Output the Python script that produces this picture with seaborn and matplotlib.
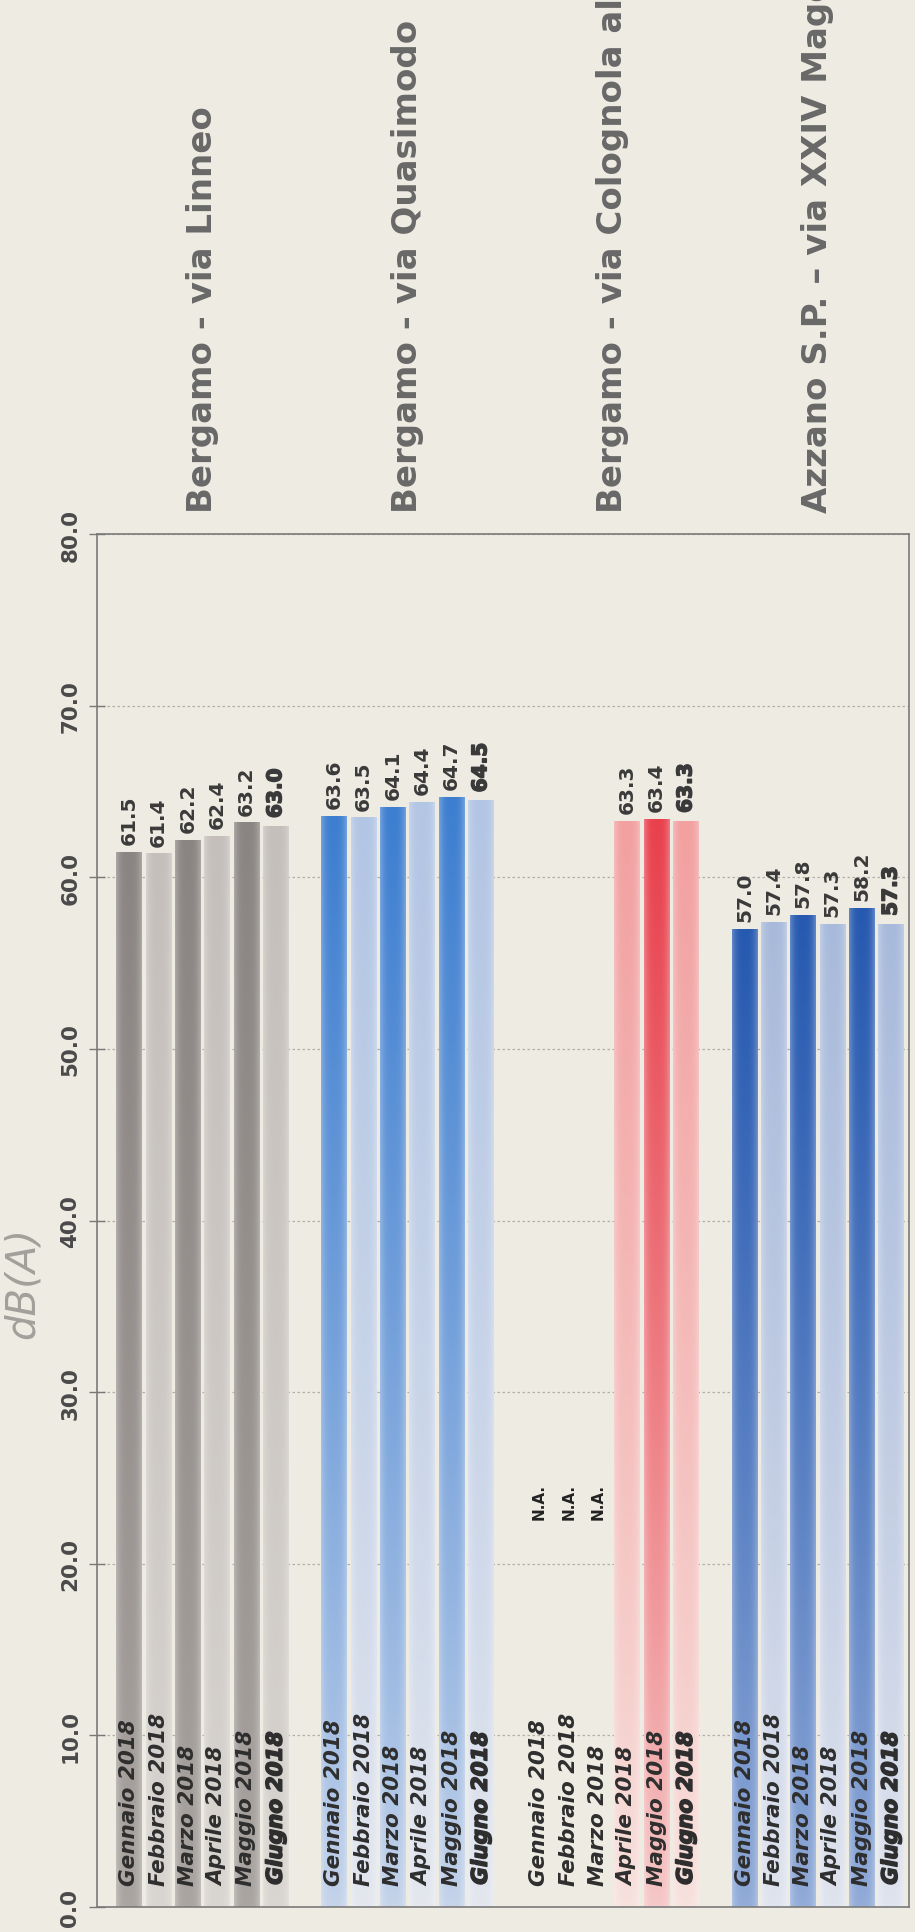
import numpy as np
import pandas as pd
import seaborn as sns
import matplotlib
matplotlib.use("Agg")
import matplotlib.pyplot as plt
from matplotlib import patheffects as pe
from matplotlib.colors import to_rgb

# ---------------- data ----------------
stations = ["Bergamo - via Linneo", "Bergamo - via Quasimodo",
            "Bergamo - via Colognola al Piano", "Azzano S.P. \u2013 via XXIV Maggio"]
months = ["Gennaio 2018", "Febbraio 2018", "Marzo 2018",
          "Aprile 2018", "Maggio 2018", "Giugno 2018"]
linneo = [61.5, 61.4, 62.2, 62.4, 63.2, 63.0]
quasimodo = [63.6, 63.5, 64.1, 64.4, 64.7, 64.5]
colognola = [np.nan, np.nan, np.nan, 63.3, 63.4, 63.3]
azzano = [57.0, 57.4, 57.8, 57.3, 58.2, 57.3]
yticks = [0, 10, 20, 30, 40, 50, 60, 70, 80]
ytick_labels = ["0.0", "10.0", "20.0", "30.0", "40.0", "50.0", "60.0", "70.0", "80.0"]
na_label = "N.A."
unit_label = "dB(A)"

series = [linneo, quasimodo, colognola, azzano]

# (top, bottom) colours for dark (even month) and light (odd month) bars
group_colors = [
    (("#8a8582", "#aaa5a1"), ("#c4bfbb", "#d9d5d0")),
    (("#3d7ed0", "#c6d4ea"), ("#b2c5e4", "#e4e7ee")),
    (("#e8414d", "#f5c9c8"), ("#f2a0a0", "#f7e2de")),
    (("#2659b0", "#93acd8"), ("#a8badb", "#e0e4ee")),
]

rows = []
for g, (st, vals) in enumerate(zip(stations, series)):
    for m, (mo, v) in enumerate(zip(months, vals)):
        rows.append(dict(station=st, month=mo, value=v, g=g, m=m,
                         pos=g * 7 + m, key=f"{g}-{m % 2}"))
df = pd.DataFrame(rows)
palette = {f"{g}-{k}": group_colors[g][k][0] for g in range(4) for k in range(2)}

BG = "#eeebe3"
sns.set_theme(style="white")
plt.rcParams["font.family"] = ["DejaVu Sans"]

fig = plt.figure(figsize=(9.15, 19.33), dpi=100, facecolor=BG)
ax = fig.add_axes([0.106, 0.0129, 0.887, 0.7103])
ax.set_facecolor(BG)

sns.barplot(data=df.dropna(subset=["value"]), x="pos", y="value", hue="key",
            palette=palette, native_scale=True, dodge=False, width=0.88,
            legend=False, errorbar=None, saturation=1, ax=ax, zorder=2)

# gradient fill clipped to each bar drawn by seaborn
lookup = {int(r.pos): r for r in df.itertuples()}
for p in list(ax.patches):
    x0, w, h = p.get_x(), p.get_width(), p.get_height()
    if h <= 0 or np.isnan(h):
        continue
    r = lookup[int(round(x0 + w / 2))]
    top, bot = (np.array(to_rgb(c)) for c in group_colors[r.g][r.m % 2])
    ny, nx = 200, 40
    t = np.linspace(0, 1, ny)[:, None, None] ** 0.8   # 0 bottom -> 1 top
    col = bot * (1 - t) + top * t
    u = np.linspace(-1, 1, nx)[None, :, None]
    edge = 0.28 * np.abs(u) ** 3
    img = np.clip(col * (1 - edge) + edge * np.ones(3), 0, 1)
    p.set_alpha(0)
    p.set_edgecolor("none")
    im = ax.imshow(img, extent=[x0, x0 + w, 0, h], origin="lower",
                   aspect="auto", zorder=2.5, interpolation="bilinear")
    im.set_clip_path(p)

heavy = [pe.withStroke(linewidth=1.1, foreground="#2e2e2e")]

for r in df.itertuples():
    is_last = r.m == 5
    ax.text(r.pos, 1.3, r.month, rotation=90, ha="center", va="bottom",
            fontsize=15.5, fontweight="bold", fontstyle="italic",
            color="#2e2e2e", zorder=5,
            path_effects=heavy if is_last else None)
    if np.isnan(r.value):
        ax.text(r.pos, 22.6, na_label, rotation=90, ha="center", va="bottom",
                fontsize=11, fontweight="bold", color="#222222", zorder=5)
    else:
        ax.text(r.pos, r.value + 0.45, f"{r.value:.1f}", rotation=90,
                ha="center", va="bottom", fontsize=14.5, fontweight="bold",
                color="#3a3a3a", zorder=5,
                path_effects=[pe.withStroke(linewidth=1.1, foreground="#3a3a3a")] if is_last else None)

for g, st in enumerate(stations):
    ax.text(g * 7 + 2.5, 81.3, st, rotation=90, ha="center", va="bottom",
            fontsize=24.5, fontweight="bold", color="#686868", clip_on=False)

ax.set_xlim(-1.1, 26.6)
ax.set_ylim(0, 80)
ax.set_xticks([])
ax.set_xlabel("")
ax.set_yticks(yticks)
ax.set_yticklabels(ytick_labels, rotation=90, va="center",
                   fontsize=15.5, fontweight="bold", color="#4a4a4a")
ax.tick_params(axis="y", direction="inout", length=12, width=1,
               color="#777777", pad=6, left=True)
ax.yaxis.grid(True, linestyle=(0, (2, 2)), color="#b3afa8", linewidth=0.9)
ax.set_axisbelow(True)
for s in ax.spines.values():
    s.set_visible(True)
    s.set_color("#7a7a7a")
    s.set_linewidth(1.2)

ax.set_ylabel(unit_label, fontsize=29, fontstyle="italic", fontweight="light",
              color="#a39f9a", rotation=90)
ax.yaxis.set_label_coords(-0.068, 0.455)

fig.savefig("out.png", dpi=100, facecolor=BG)
